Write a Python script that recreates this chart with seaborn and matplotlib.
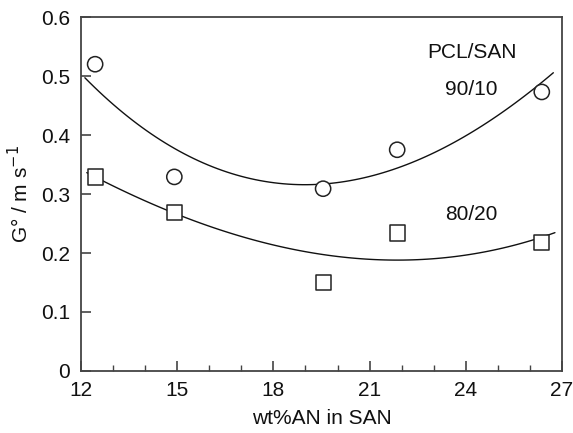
import numpy as np
import pandas as pd
import matplotlib
matplotlib.use("Agg")
import matplotlib.pyplot as plt
import seaborn as sns
from matplotlib.ticker import MultipleLocator

# Measured growth rates for the two blend ratios
an_content = [12.44, 14.91, 19.55, 21.86, 26.37]
g_90_10 = [0.520, 0.329, 0.309, 0.375, 0.473]
g_80_20 = [0.329, 0.269, 0.150, 0.234, 0.218]

# Points along the smooth trend lines
trend_90_10_x = [12.12, 15.09, 17.17, 19.24, 21.53, 23.61, 25.69, 26.73]
trend_90_10_y = [0.496, 0.375, 0.327, 0.314, 0.335, 0.392, 0.459, 0.505]
trend_80_20_x = [12.18, 14.05, 16.65, 18.20, 19.76, 21.53, 23.61, 25.69, 26.78]
trend_80_20_y = [0.332, 0.296, 0.231, 0.208, 0.194, 0.189, 0.197, 0.216, 0.233]

series_labels = ["90/10", "80/20"]
legend_title = "PCL/SAN"

x_ticks = [12, 15, 18, 21, 24, 27]
y_ticks = [0, 0.1, 0.2, 0.3, 0.4, 0.5, 0.6]

sns.set_theme(style="ticks")
plt.rcParams["font.family"] = ["Liberation Sans", "DejaVu Sans"]
plt.rcParams["font.size"] = 15

fig = plt.figure(figsize=(5.73, 4.33), dpi=100)
ax = fig.add_axes([0.1414, 0.1432, 0.8394, 0.8175])

ink = "#111111"
frame = "#444444"
fs = 15

# Trend lines (smooth cubic through the traced points)
for tx, ty in [(trend_90_10_x, trend_90_10_y), (trend_80_20_x, trend_80_20_y)]:
    sns.regplot(x=tx, y=ty, order=3, ci=None, scatter=False, truncate=True,
                line_kws=dict(color=ink, lw=1.0, zorder=2), ax=ax)

df = pd.DataFrame({
    "x": an_content * 2,
    "g": g_90_10 + g_80_20,
    "blend": [series_labels[0]] * len(an_content) + [series_labels[1]] * len(an_content),
})
sns.scatterplot(data=df, x="x", y="g", style="blend",
                markers={series_labels[0]: "o", series_labels[1]: "s"},
                s=120, facecolor="white", edgecolor="#222222", linewidth=1.1,
                legend=False, zorder=3, ax=ax)

ax.text(24.18, 0.5395, legend_title, ha="center", va="center", fontsize=fs, color=ink)
ax.text(24.18, 0.4775, series_labels[0], ha="center", va="center", fontsize=fs, color=ink)
ax.text(24.18, 0.266, series_labels[1], ha="center", va="center", fontsize=fs, color=ink)

ax.set_xlim(12, 27)
ax.set_ylim(0, 0.6)
ax.set_xticks(x_ticks)
ax.set_yticks(y_ticks)
ax.set_xticklabels([str(t) for t in x_ticks])
ax.set_yticklabels(["0" if t == 0 else f"{t:.1f}" for t in y_ticks])
ax.xaxis.set_minor_locator(MultipleLocator(1))

ax.tick_params(which="major", direction="in", length=7.5, width=1.2, color=frame,
               labelsize=fs, labelcolor=ink)
ax.tick_params(axis="x", which="major", pad=7.5)
ax.tick_params(axis="y", which="major", pad=8)
ax.tick_params(which="minor", axis="x", direction="in", length=4, width=1.0, color=frame)
for sp in ax.spines.values():
    sp.set_visible(True)
    sp.set_color(frame)
    sp.set_linewidth(1.3)

ax.set_xlabel("wt%AN in SAN", fontsize=fs, color=ink, labelpad=6)
ax.set_ylabel("G° / m s$^{-1}$", fontsize=fs, color=ink, labelpad=6)

fig.savefig("out.png", dpi=100)
